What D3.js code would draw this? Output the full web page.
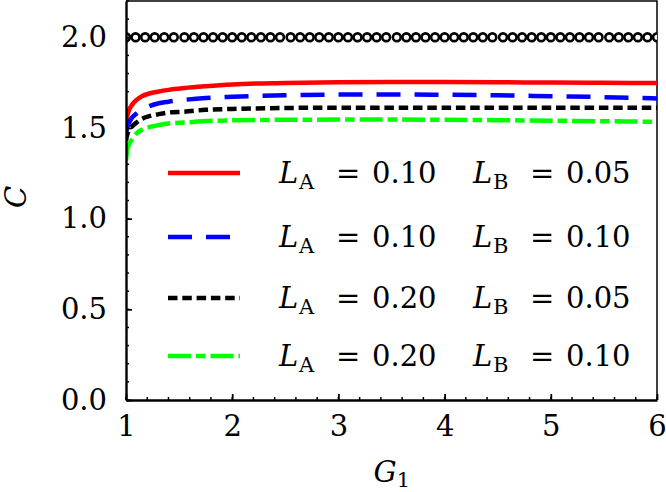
<!DOCTYPE html>
<html>
  <head>
    <meta charset="utf-8">
    <title></title>
  </head>
  <style>
  body{
      margin: 0;
      background: #fff;
    }
  text{
      font-family: "DejaVu Serif", serif;
    }
  </style>
  <script src="https://d3js.org/d3.v7.min.js"></script>
  <body>
    <script>
    // data
    var g1     = [1.00, 1.01, 1.03, 1.06, 1.10, 1.15, 1.22, 1.30, 1.40, 1.55, 1.75, 2.00, 2.50, 3.00, 3.50, 4.00, 4.50, 5.00, 5.50, 6.00]
    var cRed   = [1.52, 1.56, 1.60, 1.63, 1.655, 1.675, 1.69, 1.70, 1.71, 1.72, 1.73, 1.74, 1.748, 1.752, 1.753, 1.753, 1.752, 1.750, 1.749, 1.748]
    var cBlue  = [1.47, 1.50, 1.53, 1.56, 1.58, 1.60, 1.62, 1.635, 1.645, 1.655, 1.665, 1.672, 1.680, 1.684, 1.685, 1.683, 1.680, 1.675, 1.670, 1.663]
    var cBlack = [1.43, 1.46, 1.49, 1.51, 1.53, 1.55, 1.565, 1.575, 1.585, 1.59, 1.60, 1.605, 1.610, 1.612, 1.612, 1.612, 1.612, 1.612, 1.612, 1.612]
    var cGreen = [1.32, 1.37, 1.41, 1.44, 1.47, 1.49, 1.505, 1.515, 1.525, 1.53, 1.538, 1.542, 1.545, 1.546, 1.546, 1.545, 1.543, 1.540, 1.537, 1.534]

    // circles along C = 2
    var g1Circles = [1.00, 1.09, 1.18, 1.27, 1.36, 1.45, 1.55, 1.64, 1.73, 1.82, 1.91,
                     2.00, 2.09, 2.18, 2.27, 2.36, 2.45, 2.55, 2.64, 2.73, 2.82, 2.91,
                     3.00, 3.09, 3.18, 3.27, 3.36, 3.45, 3.55, 3.64, 3.73, 3.82, 3.91,
                     4.00, 4.09, 4.18, 4.27, 4.36, 4.45, 4.55, 4.64, 4.73, 4.82, 4.91,
                     5.00, 5.09, 5.18, 5.27, 5.36, 5.45, 5.55, 5.64, 5.73, 5.82, 5.91, 6.00]
    var cCircles = 2.0

    var labelA = ["0.10", "0.10", "0.20", "0.20"]
    var labelB = ["0.05", "0.10", "0.05", "0.10"]
    var colors = ["#ff0000", "#0000ff", "#000000", "#00ff00"]
    var dashes = ["none", "24,14", "9.5,4.8", "23,5,9.5,5"]

    var xTicks = [1, 2, 3, 4, 5, 6]
    var yTicks = [0, 0.5, 1.0, 1.5, 2.0]

    var W = 666, H = 492
    var padding = { left:126, top:1, right:9, bottom: 92 }
    var width = W - padding.left - padding.right
    var height = H - padding.top - padding.bottom

    var svg = d3.select("body").append("svg")
                .attr("width", W)
                .attr("height", H)

    var g = svg.append("g")
               .attr("transform", "translate(" + padding.left + "," + padding.top + ")")

    var xScale = d3.scaleLinear().domain([1, 6]).range([0, width])
    var yScale = d3.scaleLinear().domain([0, 2.2]).range([height, 0])

    g.append("clipPath").attr("id", "clip")
     .append("rect").attr("width", width).attr("height", height)

    // frame top / right
    g.append("path")
     .attr("d", "M0,0H" + width + "V" + height)
     .attr("fill", "none").attr("stroke", "#000").attr("stroke-width", 1.5)

    // minor ticks
    var xMinor = d3.range(1, 6.001, 0.2)
    var yMinor = d3.range(0, 2.2001, 0.1)
    g.append("g").selectAll("line").data(xMinor).enter().append("line")
     .attr("x1", function(d){ return xScale(d) }).attr("x2", function(d){ return xScale(d) })
     .attr("y1", height).attr("y2", height - 3)
     .attr("stroke", "#000").attr("stroke-width", 1.5)
    g.append("g").selectAll("line").data(yMinor).enter().append("line")
     .attr("y1", function(d){ return yScale(d) }).attr("y2", function(d){ return yScale(d) })
     .attr("x1", 0).attr("x2", 3)
     .attr("stroke", "#000").attr("stroke-width", 1.5)

    var curves = [cRed, cBlue, cBlack, cGreen]
    var line = d3.line()
                 .x(function(d){ return xScale(d[0]) })
                 .y(function(d){ return yScale(d[1]) })
                 .curve(d3.curveMonotoneX)

    var plot = g.append("g").attr("clip-path", "url(#clip)")

    plot.selectAll("circle").data(g1Circles).enter().append("circle")
        .attr("cx", function(d){ return xScale(d) })
        .attr("cy", yScale(cCircles))
        .attr("r", 3.9)
        .attr("fill", "#fff")
        .attr("stroke", "#000")
        .attr("stroke-width", 2.6)

    curves.forEach(function(c, i){
        plot.append("path")
            .datum(d3.zip(g1, c))
            .attr("d", line)
            .attr("fill", "none")
            .attr("stroke", colors[i])
            .attr("stroke-width", 4.5)
            .attr("stroke-dasharray", dashes[i])
    })

    // axes
    var xAxis = d3.axisBottom(xScale).tickValues(xTicks).tickSizeInner(-6).tickSizeOuter(0).tickPadding(15)
                  .tickFormat(d3.format("d"))
    var yAxis = d3.axisLeft(yScale).tickValues(yTicks).tickSizeInner(-6).tickSizeOuter(0).tickPadding(19)
                  .tickFormat(d3.format(".1f"))

    var gx = g.append("g").attr("transform", "translate(0," + height + ")").call(xAxis)
    var gy = g.append("g").call(yAxis)
    ;[gx, gy].forEach(function(a){
        a.select(".domain").attr("stroke-width", 2.4)
        a.selectAll(".tick line").attr("stroke-width", 1.8)
        a.selectAll(".tick text").attr("font-family", "DejaVu Serif").attr("font-size", 29).attr("fill", "#000")
    })

    // axis titles
    var xt = svg.append("text")
       .attr("x", padding.left + width / 2 - 18).attr("y", 482)
       .attr("font-size", 29)
    xt.append("tspan").attr("font-style", "italic").text("G")
    xt.append("tspan").attr("font-size", 21).attr("dy", 5).text("1")

    svg.append("text")
       .attr("transform", "translate(26,197) rotate(-90)")
       .attr("text-anchor", "middle")
       .attr("font-size", 29).attr("font-style", "italic")
       .text("C")

    // legend
    var legY = [173, 237, 298, 356]
    var leg = g.append("g")
    function label(x0, y, sub, val){
        var t = leg.append("text").attr("y", y).attr("font-size", 29)
        t.append("tspan").attr("x", x0).attr("font-style", "italic").text("L")
        t.append("tspan").attr("x", x0 + 20).attr("font-size", 21).attr("dy", 6).text(sub)
        t.append("tspan").attr("x", x0 + 57).attr("dy", -6).text("=")
        t.append("tspan").attr("x", x0 + 93).text(val)
    }
    labelA.forEach(function(a, i){
        var y = legY[i] - padding.top
        leg.append("line")
           .attr("x1", 168 - padding.left).attr("x2", 240 - padding.left)
           .attr("y1", y).attr("y2", y)
           .attr("stroke", colors[i]).attr("stroke-width", 4.5)
           .attr("stroke-dasharray", dashes[i])
        label(279 - padding.left, y + 10, "A", a)
        label(473 - padding.left, y + 10, "B", labelB[i])
    })
    </script>
  </body>
</html>
